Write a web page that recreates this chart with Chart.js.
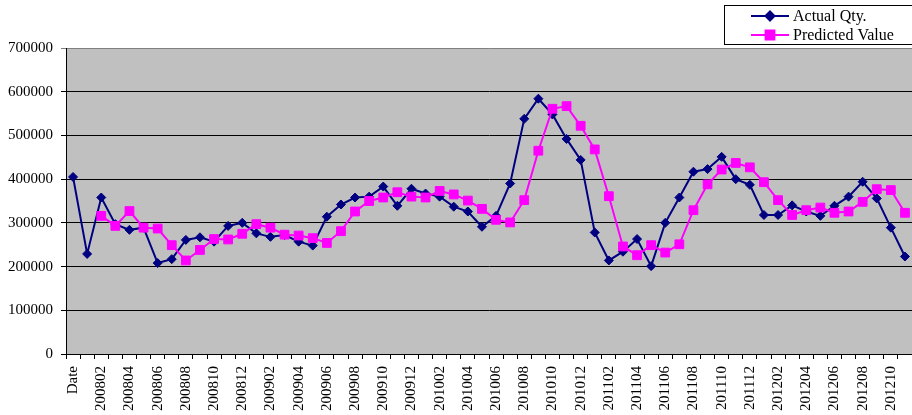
<!DOCTYPE html>
<html>
<head>
<meta charset="utf-8">
<script src="https://cdn.jsdelivr.net/npm/chart.js@4/dist/chart.umd.min.js"></script>
<style>
  html, body { margin: 0; padding: 0; background: #fff; }
  canvas { display: block; }
</style>
</head>
<body>
<canvas id="chart" width="912" height="415"></canvas>
<script>
// categories: first row is the "Date" header, then months 200801..201211
var months = ["Date"];
for (var yr = 2008; yr <= 2012; yr++) {
    for (var m = 1; m <= 12; m++) {
        if (yr === 2012 && m === 12) break;
        months.push(String(yr) + (m < 10 ? "0" + m : m));
    }
}

var actualQty = [
    405000, 229000, 358000, 297000, 284000, 289000, 208000, 217000, 261000, 267000,
    257000, 293000, 300000, 276000, 268000, 272000, 257000, 248000, 314000, 342000,
    358000, 360000, 383000, 339000, 378000, 367000, 360000, 337000, 326000, 291000,
    316000, 390000, 538000, 584000, 548000, 492000, 444000, 278000, 214000, 234000,
    263000, 201000, 300000, 358000, 417000, 423000, 451000, 400000, 387000, 318000,
    318000, 340000, 326000, 316000, 339000, 360000, 394000, 356000, 289000, 223000
];

var predictedValue = [
    null, null, 316000, 293000, 327000, 289000, 287000, 249000, 214000, 238000,
    263000, 262000, 275000, 297000, 289000, 273000, 271000, 265000, 254000, 281000,
    326000, 350000, 358000, 370000, 360000, 358000, 373000, 365000, 351000, 332000,
    307000, 301000, 352000, 465000, 561000, 567000, 522000, 468000, 361000, 246000,
    226000, 249000, 232000, 251000, 329000, 388000, 422000, 437000, 427000, 393000,
    352000, 318000, 329000, 335000, 323000, 326000, 348000, 377000, 375000, 323000
];

var yTicks = [0, 100000, 200000, 300000, 400000, 500000, 600000, 700000];

var serif = '"Liberation Serif", "Times New Roman", serif';

// gray plot background like the spreadsheet chart
var plotBg = {
    id: "plotBg",
    beforeDraw: function(chart) {
        var a = chart.chartArea, ctx = chart.ctx;
        ctx.save();
        ctx.fillStyle = "#c0c0c0";
        ctx.fillRect(a.left, a.top, a.right - a.left, a.bottom - a.top);
        ctx.restore();
    }
};

// boxed legend in the top right corner
var boxLegend = {
    id: "boxLegend",
    afterDraw: function(chart) {
        var ctx = chart.ctx;
        var sets = chart.data.datasets;
        ctx.save();
        ctx.fillStyle = "#fff";
        ctx.fillRect(724.5, 5.5, 200, 39);
        ctx.strokeStyle = "#000";
        ctx.lineWidth = 1;
        ctx.strokeRect(724.5, 5.5, 200, 39);
        sets.forEach(function(ds, i) {
            var y = 16 + i * 19;
            ctx.strokeStyle = ds.borderColor;
            ctx.lineWidth = 2;
            ctx.beginPath();
            ctx.moveTo(751, y);
            ctx.lineTo(789, y);
            ctx.stroke();
            ctx.fillStyle = ds.pointBackgroundColor;
            ctx.strokeStyle = ds.pointBorderColor;
            Chart.helpers.drawPoint(ctx, {
                pointStyle: ds.pointStyle,
                radius: ds.pointRadius,
                borderWidth: 1
            }, 770, y);
            ctx.fillStyle = "#000";
            ctx.font = "16px " + serif;
            ctx.textBaseline = "middle";
            ctx.textAlign = "left";
            ctx.fillText(ds.label, 793, y + 1);
        });
        ctx.restore();
    }
};

new Chart(document.getElementById("chart"), {
    type: "line",
    data: {
        labels: months,
        datasets: [
            {
                label: "Actual Qty.",
                data: actualQty,
                borderColor: "#000080",
                backgroundColor: "#000080",
                pointBackgroundColor: "#000080",
                pointBorderColor: "#000080",
                borderWidth: 2,
                pointStyle: "rectRot",
                pointRadius: 4.5,
                pointBorderWidth: 1,
                tension: 0,
                order: 1
            },
            {
                label: "Predicted Value",
                data: predictedValue,
                borderColor: "#ff00ff",
                backgroundColor: "#ff00ff",
                pointBackgroundColor: "#ff00ff",
                pointBorderColor: "#ff00ff",
                borderWidth: 2,
                pointStyle: "rect",
                pointRadius: 6.2,
                pointBorderWidth: 1,
                tension: 0,
                spanGaps: false,
                order: 0
            }
        ]
    },
    options: {
        responsive: false,
        animation: false,
        devicePixelRatio: 1,
        layout: { autoPadding: false, padding: { top: 48, left: 0, right: 0, bottom: 0 } },
        plugins: {
            legend: { display: false },
            tooltip: { enabled: false }
        },
        scales: {
            x: {
                type: "category",
                offset: true,
                grid: {
                    offset: true,
                    drawOnChartArea: false,
                    drawTicks: true,
                    tickLength: 5,
                    color: "#000"
                },
                border: { display: true, color: "#000", width: 1 },
                ticks: {
                    autoSkip: false,
                    minRotation: 90,
                    maxRotation: 90,
                    padding: 7,
                    color: "#000",
                    font: { family: serif, size: 15 },
                    callback: function(val, idx) {
                        return idx % 2 === 0 ? months[idx] : "";
                    }
                },
                afterFit: function(scale) {
                    scale.height = 61;
                    // let the plot run to the right edge of the canvas
                    scale.paddingLeft = 0;
                    scale.paddingRight = 0;
                }
            },
            y: {
                min: 0,
                max: 700000,
                afterBuildTicks: function(scale) {
                    scale.ticks = yTicks.map(function(v) { return { value: v }; });
                },
                grid: {
                    drawTicks: true,
                    tickLength: 5,
                    lineWidth: 1,
                    color: function(c) {
                        return c.tick && c.tick.value === 700000 ? "#808080" : "#000";
                    }
                },
                border: { display: true, color: "#000", width: 1 },
                ticks: {
                    padding: 8,
                    color: "#000",
                    font: { family: serif, size: 15 },
                    callback: function(v) { return String(v); }
                },
                afterFit: function(scale) { scale.width = 66; }
            }
        }
    },
    plugins: [plotBg, boxLegend]
});
</script>
</body>
</html>
